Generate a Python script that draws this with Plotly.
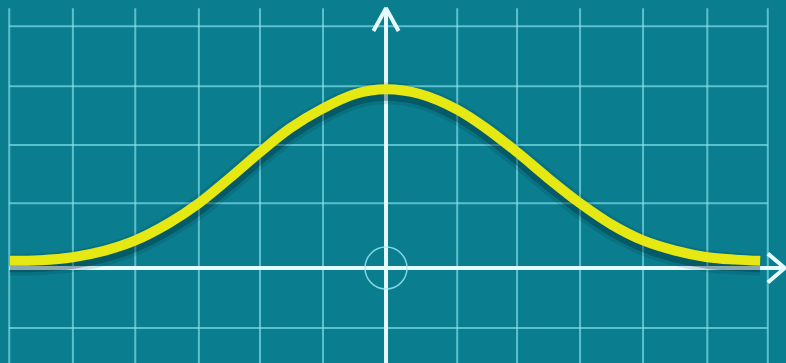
import plotly.graph_objects as go

# bell curve (x: grid units from the vertical axis, y: grid units above the x axis)
curve_x = [-5.97, -5.49, -4.97, -4.46, -3.98, -3.46, -2.97, -2.48, -2.0, -1.52, -1.0, -0.49, 0.0,
           0.54, 1.13, 1.6, 2.08, 2.57, 3.08, 3.59, 4.08, 4.59, 5.1, 5.54, 5.94]
curve_y = [0.12, 0.13, 0.18, 0.29, 0.46, 0.74, 1.08, 1.50, 1.93, 2.33, 2.66, 2.90, 2.98,
           2.90, 2.64, 2.32, 1.93, 1.50, 1.08, 0.72, 0.46, 0.29, 0.18, 0.14, 0.12]

# grid positions
grid_x = [-5.98, -4.97, -3.98, -2.97, -2.0, -1.0, 1.13, 2.08, 3.08, 4.08, 5.1, 6.06]
grid_y = [4.03, 3.03, 2.05, 1.08, -1.0]
grid_left, grid_right, grid_top, grid_bottom = -5.98, 6.06, 4.33, -1.6

# axes and their arrow heads
xaxis_line = ([-5.98, 6.3], [0, 0])
yaxis_line = ([0, 0], [-1.6, 4.3])
x_arrow = ([6.06, 6.33, 6.06], [0.24, 0.0, -0.24])
y_arrow = ([-0.2, 0.0, 0.2], [3.95, 4.33, 3.95])
origin = ([0], [0])

x_range = [-6.127, 6.349]
y_range = [-1.583, 4.467]
shadow_shift = 4 / 60

bg = "rgb(10,126,143)"
grid_col = "rgba(135,228,238,0.65)"
axis_col = "#e6fbff"
yellow = "rgb(230,232,20)"

gx, gy = [], []
for v in grid_x:
    gx += [v, v, None]
    gy += [grid_bottom, grid_top, None]
for h in grid_y:
    gx += [grid_left, grid_right, None]
    gy += [h, h, None]

fig = go.Figure()
fig.add_trace(go.Scatter(x=gx, y=gy, mode="lines", line=dict(color=grid_col, width=2)))
fig.add_trace(go.Scatter(x=xaxis_line[0], y=xaxis_line[1], mode="lines", line=dict(color=axis_col, width=4)))
fig.add_trace(go.Scatter(x=yaxis_line[0], y=yaxis_line[1], mode="lines", line=dict(color=axis_col, width=4)))
fig.add_trace(go.Scatter(x=x_arrow[0], y=x_arrow[1], mode="lines", line=dict(color=axis_col, width=4)))
fig.add_trace(go.Scatter(x=y_arrow[0], y=y_arrow[1], mode="lines", line=dict(color=axis_col, width=4)))
fig.add_trace(go.Scatter(x=origin[0], y=origin[1], mode="markers",
                         marker=dict(symbol="circle-open", size=42, color="rgba(160,235,245,0.8)",
                                     line=dict(width=1.5))))

# soft shadow under the curve (on a shifted overlay axis)
fig.add_trace(go.Scatter(x=curve_x, y=curve_y, mode="lines", yaxis="y2", line_shape="spline",
                         line=dict(color="rgba(0,35,45,0.12)", width=22)))
fig.add_trace(go.Scatter(x=curve_x, y=curve_y, mode="lines", yaxis="y2", line_shape="spline",
                         line=dict(color="rgba(0,35,45,0.3)", width=15)))
# the curve itself, on top
fig.add_trace(go.Scatter(x=curve_x, y=curve_y, mode="lines", yaxis="y3", line_shape="spline",
                         line=dict(color=yellow, width=10)))

fig.update_layout(
    width=786, height=363,
    showlegend=False,
    paper_bgcolor=bg, plot_bgcolor=bg,
    margin=dict(l=0, r=0, t=0, b=0),
    xaxis=dict(range=x_range, visible=False, fixedrange=True),
    yaxis=dict(range=y_range, visible=False, fixedrange=True),
    yaxis2=dict(range=[y_range[0] + shadow_shift, y_range[1] + shadow_shift],
                overlaying="y", visible=False, fixedrange=True),
    yaxis3=dict(range=y_range, overlaying="y", visible=False, fixedrange=True),
)

fig.write_html("out.html", config={"displayModeBar": False},
               post_script="document.body.style.margin='0';")
